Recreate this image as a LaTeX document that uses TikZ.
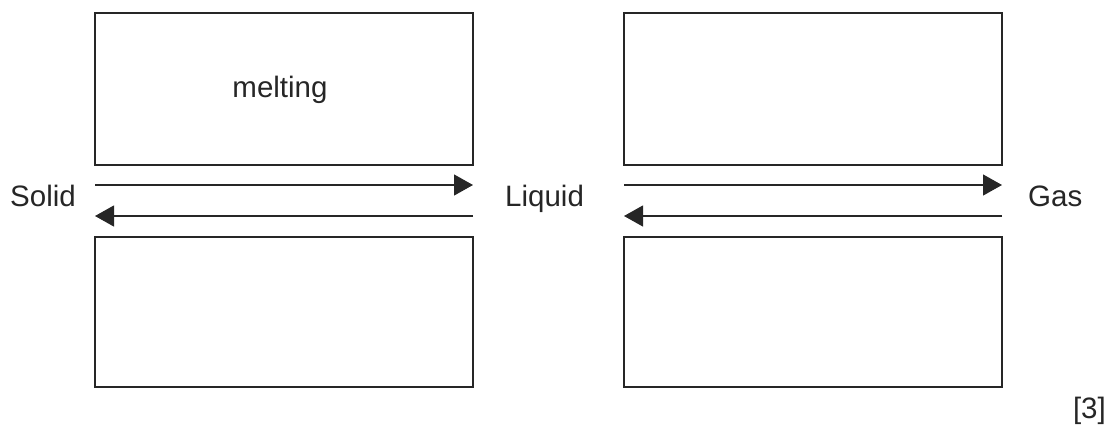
\documentclass[tikz,border=0pt]{standalone}
\usepackage{fontspec}
\setmainfont{Liberation Sans}
\usetikzlibrary{arrows.meta}
\begin{document}
\begin{tikzpicture}[x=1pt,y=-1pt,
  panel/.style={draw=black!85,line width=1.3pt},
  flow/.style={draw=black!85,line width=1.2pt,-{Triangle[length=19pt,width=21pt]}},
  lbl/.style={font=\fontsize{29.5}{34}\selectfont,text=black!85,inner sep=0pt}]
\useasboundingbox (0,0) rectangle (1110,432);
\draw[panel] (95,13) rectangle (473,165);
\draw[panel] (95,237) rectangle (473,387);
\draw[panel] (624,13) rectangle (1002,165);
\draw[panel] (624,237) rectangle (1002,387);
\node[lbl,anchor=base] (melt) at (280,97) {melting};
\node[lbl,anchor=base west] (solid) at (10,206) {Solid};
\node[lbl,anchor=base west] (liquid) at (505,206) {Liquid};
\node[lbl,anchor=base west] (gas) at (1028,206) {Gas};
\node[lbl,anchor=base east] (mark) at (1106,418) {[3]};
\coordinate (a1) at (95,185);
\coordinate (a2) at (473,185);
\coordinate (b1) at (473,216);
\coordinate (b2) at (95,216);
\coordinate (c1) at (624,185);
\coordinate (c2) at (1002,185);
\coordinate (d1) at (1002,216);
\coordinate (d2) at (624,216);
\draw[flow] (a1) -- (a2);
\draw[flow] (b1) -- (b2);
\draw[flow] (c1) -- (c2);
\draw[flow] (d1) -- (d2);
\end{tikzpicture}
\end{document}
